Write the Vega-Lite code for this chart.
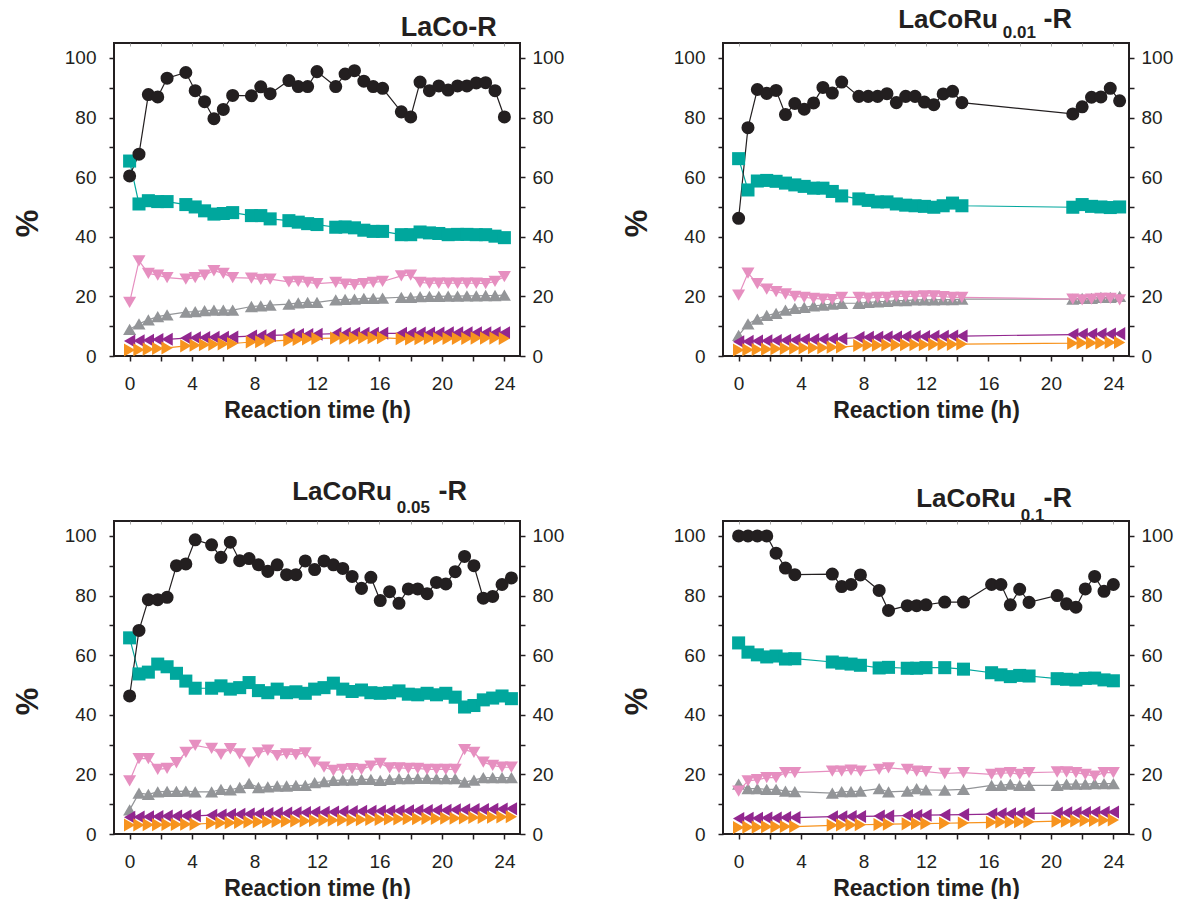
{
  "$schema": "https://vega.github.io/schema/vega-lite/v6.json",
  "background": "white",
  "padding": {"left": 11, "top": 4, "right": 5, "bottom": 5},
  "datasets": {
    "p1": [
      {"t":0,"s1":8.9,"s2":18.0,"s3":5.0,"s4":2.0,"s5":65.4,"s6":60.4},
      {"t":0.6,"s1":10.8,"s2":31.9,"s3":5.1,"s4":2.1,"s5":51.0,"s6":67.7},
      {"t":1.2,"s1":12.1,"s2":27.7,"s3":5.3,"s4":2.3,"s5":52.1,"s6":87.7},
      {"t":1.8,"s1":13.2,"s2":27.1,"s3":5.5,"s4":2.5,"s5":51.8,"s6":86.9},
      {"t":2.4,"s1":13.8,"s2":26.3,"s3":5.6,"s4":2.7,"s5":51.8,"s6":93.2},
      {"t":3.6,"s1":14.7,"s2":25.8,"s3":6.0,"s4":3.4,"s5":50.8,"s6":95.1},
      {"t":4.2,"s1":14.9,"s2":26.3,"s3":6.1,"s4":3.6,"s5":50.0,"s6":89.0},
      {"t":4.8,"s1":15.2,"s2":27.1,"s3":6.2,"s4":3.8,"s5":48.7,"s6":85.3},
      {"t":5.4,"s1":15.4,"s2":28.6,"s3":6.3,"s4":3.9,"s5":47.6,"s6":79.6},
      {"t":6.0,"s1":15.4,"s2":27.7,"s3":6.3,"s4":4.0,"s5":47.8,"s6":82.7},
      {"t":6.6,"s1":15.4,"s2":26.3,"s3":6.4,"s4":4.2,"s5":48.1,"s6":87.4},
      {"t":7.8,"s1":16.6,"s2":26.1,"s3":6.7,"s4":4.7,"s5":47.1,"s6":87.3},
      {"t":8.4,"s1":16.8,"s2":25.7,"s3":6.8,"s4":4.8,"s5":47.1,"s6":90.3},
      {"t":9.0,"s1":17.1,"s2":25.8,"s3":6.9,"s4":5.0,"s5":46.0,"s6":88.0},
      {"t":10.2,"s1":17.4,"s2":24.9,"s3":7.1,"s4":5.3,"s5":45.4,"s6":92.4},
      {"t":10.8,"s1":17.8,"s2":25.0,"s3":7.2,"s4":5.5,"s5":44.9,"s6":90.4},
      {"t":11.4,"s1":18.0,"s2":24.7,"s3":7.2,"s4":5.7,"s5":44.4,"s6":90.4},
      {"t":12.0,"s1":18.0,"s2":24.3,"s3":7.3,"s4":5.9,"s5":44.1,"s6":95.4},
      {"t":13.2,"s1":18.8,"s2":24.7,"s3":7.5,"s4":6.0,"s5":43.2,"s6":90.4},
      {"t":13.8,"s1":19.0,"s2":24.1,"s3":7.5,"s4":6.0,"s5":43.3,"s6":94.6},
      {"t":14.4,"s1":19.1,"s2":23.9,"s3":7.6,"s4":6.0,"s5":43.0,"s6":95.7},
      {"t":15.0,"s1":19.3,"s2":24.3,"s3":7.6,"s4":6.1,"s5":42.2,"s6":92.2},
      {"t":15.6,"s1":19.3,"s2":24.7,"s3":7.6,"s4":6.1,"s5":41.8,"s6":90.4},
      {"t":16.2,"s1":19.4,"s2":25.0,"s3":7.6,"s4":6.1,"s5":41.8,"s6":89.8},
      {"t":17.4,"s1":19.7,"s2":26.9,"s3":7.6,"s4":5.8,"s5":40.7,"s6":81.9},
      {"t":18.0,"s1":19.7,"s2":27.1,"s3":7.6,"s4":5.7,"s5":40.7,"s6":80.2},
      {"t":18.6,"s1":19.9,"s2":24.7,"s3":7.7,"s4":5.8,"s5":41.6,"s6":91.9},
      {"t":19.2,"s1":20.0,"s2":24.4,"s3":7.7,"s4":5.9,"s5":41.3,"s6":89.0},
      {"t":19.8,"s1":20.0,"s2":24.4,"s3":7.7,"s4":5.9,"s5":41.1,"s6":90.6},
      {"t":20.4,"s1":20.1,"s2":24.4,"s3":7.8,"s4":5.9,"s5":40.7,"s6":89.2},
      {"t":21.0,"s1":20.1,"s2":24.4,"s3":7.8,"s4":5.9,"s5":40.8,"s6":90.6},
      {"t":21.6,"s1":20.2,"s2":24.4,"s3":7.8,"s4":5.9,"s5":40.8,"s6":90.6},
      {"t":22.2,"s1":20.2,"s2":24.4,"s3":7.8,"s4":6.0,"s5":40.7,"s6":91.6},
      {"t":22.8,"s1":20.3,"s2":24.3,"s3":7.8,"s4":6.0,"s5":40.7,"s6":91.7},
      {"t":23.4,"s1":20.3,"s2":25.0,"s3":7.8,"s4":6.0,"s5":40.2,"s6":89.0},
      {"t":24.0,"s1":20.4,"s2":26.6,"s3":7.8,"s4":5.9,"s5":39.7,"s6":80.2}
    ],
    "p2": [
      {"t":0,"s6":46.2,"s5":66.2,"s2":20.4,"s1":6.9,"s3":4.8,"s4":2.0},
      {"t":0.6,"s6":76.6,"s5":55.7,"s2":27.8,"s1":10.8,"s3":4.9,"s4":2.1},
      {"t":1.2,"s6":89.4,"s5":58.7,"s2":24.3,"s1":12.4,"s3":5.0,"s4":2.2},
      {"t":1.8,"s6":88.1,"s5":58.9,"s2":22.4,"s1":13.6,"s3":5.1,"s4":2.3},
      {"t":2.4,"s6":89.1,"s5":58.6,"s2":21.6,"s1":14.3,"s3":5.2,"s4":2.4},
      {"t":3.0,"s6":81.0,"s5":58.0,"s2":20.8,"s1":15.4,"s3":5.3,"s4":2.5},
      {"t":3.6,"s6":84.7,"s5":57.4,"s2":20.0,"s1":16.0,"s3":5.4,"s4":2.6},
      {"t":4.2,"s6":82.8,"s5":56.9,"s2":19.7,"s1":16.3,"s3":5.5,"s4":2.7},
      {"t":4.8,"s6":84.9,"s5":56.3,"s2":19.3,"s1":16.8,"s3":5.5,"s4":2.8},
      {"t":5.4,"s6":90.1,"s5":56.3,"s2":19.1,"s1":17.1,"s3":5.6,"s4":2.8},
      {"t":6.0,"s6":88.2,"s5":55.2,"s2":18.9,"s1":17.4,"s3":5.7,"s4":2.9},
      {"t":6.6,"s6":91.9,"s5":53.7,"s2":19.7,"s1":17.7,"s3":5.8,"s4":3.0},
      {"t":7.7,"s6":87.1,"s5":52.7,"s2":19.7,"s1":17.7,"s3":6.2,"s4":3.5},
      {"t":8.3,"s6":87.1,"s5":52.2,"s2":19.4,"s1":18.0,"s3":6.3,"s4":3.6},
      {"t":8.9,"s6":87.1,"s5":51.7,"s2":19.7,"s1":18.2,"s3":6.3,"s4":3.6},
      {"t":9.5,"s6":88.0,"s5":51.7,"s2":19.7,"s1":18.3,"s3":6.4,"s4":3.7},
      {"t":10.1,"s6":85.0,"s5":51.0,"s2":20.0,"s1":18.6,"s3":6.4,"s4":3.7},
      {"t":10.7,"s6":87.1,"s5":50.6,"s2":20.0,"s1":18.6,"s3":6.5,"s4":3.8},
      {"t":11.3,"s6":87.1,"s5":50.4,"s2":20.0,"s1":18.8,"s3":6.5,"s4":3.8},
      {"t":11.9,"s6":85.2,"s5":50.2,"s2":20.2,"s1":18.8,"s3":6.5,"s4":3.8},
      {"t":12.5,"s6":84.3,"s5":49.9,"s2":20.2,"s1":18.8,"s3":6.6,"s4":3.9},
      {"t":13.1,"s6":87.9,"s5":50.4,"s2":19.9,"s1":18.9,"s3":6.6,"s4":3.9},
      {"t":13.7,"s6":88.8,"s5":51.3,"s2":19.7,"s1":18.9,"s3":6.7,"s4":3.9},
      {"t":14.3,"s6":85.0,"s5":50.4,"s2":19.7,"s1":19.1,"s3":6.7,"s4":4.0},
      {"t":21.4,"s6":81.2,"s5":49.9,"s2":19.1,"s1":19.1,"s3":7.2,"s4":4.3},
      {"t":22.0,"s6":83.6,"s5":50.8,"s2":18.8,"s1":19.3,"s3":7.3,"s4":4.4},
      {"t":22.6,"s6":86.8,"s5":50.2,"s2":19.1,"s1":19.3,"s3":7.3,"s4":4.4},
      {"t":23.2,"s6":86.9,"s5":50.0,"s2":19.3,"s1":19.7,"s3":7.4,"s4":4.4},
      {"t":23.8,"s6":89.8,"s5":49.8,"s2":19.3,"s1":19.7,"s3":7.4,"s4":4.5},
      {"t":24.4,"s6":85.6,"s5":50.0,"s2":18.8,"s1":20.0,"s3":7.5,"s4":4.5}
    ],
    "p3": [
      {"t":0,"s6":46.3,"s5":65.8,"s2":17.8,"s1":8.1,"s3":5.6,"s4":3.0},
      {"t":0.6,"s6":68.3,"s5":53.7,"s2":25.3,"s1":13.7,"s3":5.7,"s4":3.0},
      {"t":1.2,"s6":78.6,"s5":54.3,"s2":25.3,"s1":13.3,"s3":5.8,"s4":3.1},
      {"t":1.8,"s6":78.6,"s5":57.0,"s2":21.7,"s1":14.1,"s3":5.9,"s4":3.1},
      {"t":2.4,"s6":79.4,"s5":56.1,"s2":22.0,"s1":14.3,"s3":6.0,"s4":3.2},
      {"t":3.0,"s6":90.0,"s5":53.9,"s2":23.9,"s1":14.3,"s3":6.0,"s4":3.2},
      {"t":3.6,"s6":90.6,"s5":51.3,"s2":27.4,"s1":14.4,"s3":6.1,"s4":3.3},
      {"t":4.2,"s6":98.7,"s5":48.9,"s2":29.7,"s1":14.1,"s3":6.1,"s4":3.3},
      {"t":5.25,"s6":97.0,"s5":48.9,"s2":28.7,"s1":14.1,"s3":6.3,"s4":3.6},
      {"t":5.85,"s6":92.8,"s5":49.7,"s2":26.7,"s1":15.0,"s3":6.4,"s4":3.7},
      {"t":6.45,"s6":97.9,"s5":48.6,"s2":28.6,"s1":14.8,"s3":6.5,"s4":3.8},
      {"t":7.05,"s6":91.7,"s5":49.1,"s2":26.9,"s1":15.6,"s3":6.6,"s4":3.9},
      {"t":7.65,"s6":92.4,"s5":50.8,"s2":24.1,"s1":17.0,"s3":6.7,"s4":4.0},
      {"t":8.25,"s6":90.3,"s5":48.1,"s2":27.2,"s1":15.6,"s3":6.8,"s4":4.1},
      {"t":8.85,"s6":88.1,"s5":47.4,"s2":28.1,"s1":15.8,"s3":6.9,"s4":4.2},
      {"t":9.45,"s6":90.3,"s5":48.6,"s2":26.3,"s1":16.1,"s3":7.0,"s4":4.2},
      {"t":10.05,"s6":87.0,"s5":47.4,"s2":26.9,"s1":16.1,"s3":7.0,"s4":4.3},
      {"t":10.65,"s6":87.0,"s5":47.7,"s2":26.6,"s1":16.3,"s3":7.1,"s4":4.4},
      {"t":11.25,"s6":91.6,"s5":47.2,"s2":27.2,"s1":16.3,"s3":7.2,"s4":4.4},
      {"t":11.85,"s6":88.7,"s5":48.6,"s2":24.1,"s1":17.2,"s3":7.3,"s4":4.5},
      {"t":12.45,"s6":91.6,"s5":49.1,"s2":22.4,"s1":17.6,"s3":7.3,"s4":4.6},
      {"t":13.05,"s6":90.3,"s5":50.6,"s2":21.3,"s1":18.0,"s3":7.4,"s4":4.6},
      {"t":13.65,"s6":89.1,"s5":48.6,"s2":21.7,"s1":18.1,"s3":7.5,"s4":4.7},
      {"t":14.25,"s6":86.4,"s5":47.8,"s2":21.9,"s1":18.1,"s3":7.5,"s4":4.7},
      {"t":14.85,"s6":82.4,"s5":48.3,"s2":21.7,"s1":18.3,"s3":7.6,"s4":4.8},
      {"t":15.45,"s6":86.1,"s5":47.4,"s2":22.8,"s1":18.3,"s3":7.6,"s4":4.9},
      {"t":16.05,"s6":78.3,"s5":47.2,"s2":23.7,"s1":18.0,"s3":7.7,"s4":4.9},
      {"t":16.65,"s6":81.3,"s5":47.4,"s2":22.2,"s1":18.3,"s3":7.7,"s4":5.0},
      {"t":17.25,"s6":77.4,"s5":48.0,"s2":22.2,"s1":18.6,"s3":7.8,"s4":5.0},
      {"t":17.85,"s6":82.2,"s5":46.9,"s2":22.0,"s1":18.6,"s3":7.8,"s4":5.1},
      {"t":18.45,"s6":82.2,"s5":46.7,"s2":22.0,"s1":18.7,"s3":7.9,"s4":5.1},
      {"t":19.05,"s6":80.6,"s5":47.2,"s2":21.7,"s1":18.7,"s3":7.9,"s4":5.2},
      {"t":19.65,"s6":84.4,"s5":46.7,"s2":21.7,"s1":18.6,"s3":8.0,"s4":5.2},
      {"t":20.25,"s6":83.9,"s5":47.2,"s2":21.7,"s1":18.6,"s3":8.0,"s4":5.3},
      {"t":20.85,"s6":88.0,"s5":45.9,"s2":21.7,"s1":18.6,"s3":8.1,"s4":5.3},
      {"t":21.45,"s6":93.1,"s5":42.6,"s2":28.3,"s1":17.4,"s3":8.1,"s4":5.4},
      {"t":22.05,"s6":90.0,"s5":43.1,"s2":27.4,"s1":18.1,"s3":8.2,"s4":5.5},
      {"t":22.65,"s6":79.1,"s5":45.0,"s2":24.1,"s1":18.9,"s3":8.2,"s4":5.5},
      {"t":23.25,"s6":79.7,"s5":45.6,"s2":23.0,"s1":18.9,"s3":8.3,"s4":5.6},
      {"t":23.85,"s6":83.7,"s5":46.3,"s2":22.4,"s1":18.9,"s3":8.4,"s4":5.7},
      {"t":24.45,"s6":85.9,"s5":45.4,"s2":22.4,"s1":18.9,"s3":8.5,"s4":5.8}
    ],
    "p4": [
      {"t":0,"s6":100,"s5":64.1,"s2":14.4,"s1":16.7,"s3":5.2,"s4":2.2},
      {"t":0.6,"s6":100,"s5":61.0,"s2":17.8,"s1":15.2,"s3":5.3,"s4":2.3},
      {"t":1.2,"s6":100,"s5":60.1,"s2":18.2,"s1":15.2,"s3":5.3,"s4":2.3},
      {"t":1.8,"s6":100,"s5":59.4,"s2":18.9,"s1":15.0,"s3":5.4,"s4":2.4},
      {"t":2.4,"s6":94.2,"s5":59.7,"s2":18.9,"s1":15.0,"s3":5.4,"s4":2.4},
      {"t":3.0,"s6":89.2,"s5":58.7,"s2":20.6,"s1":14.4,"s3":5.5,"s4":2.5},
      {"t":3.6,"s6":87.0,"s5":58.8,"s2":20.6,"s1":14.2,"s3":5.5,"s4":2.5},
      {"t":6.0,"s6":87.2,"s5":57.7,"s2":21.1,"s1":13.7,"s3":5.8,"s4":2.9},
      {"t":6.6,"s6":83.0,"s5":57.3,"s2":21.1,"s1":14.2,"s3":5.8,"s4":3.0},
      {"t":7.2,"s6":83.7,"s5":57.0,"s2":21.4,"s1":14.2,"s3":5.9,"s4":3.0},
      {"t":7.8,"s6":86.9,"s5":56.6,"s2":21.1,"s1":14.4,"s3":5.9,"s4":3.1},
      {"t":9.0,"s6":81.7,"s5":55.7,"s2":21.7,"s1":15.2,"s3":6.0,"s4":3.2},
      {"t":9.6,"s6":75.0,"s5":55.9,"s2":22.2,"s1":14.1,"s3":6.0,"s4":3.3},
      {"t":10.8,"s6":76.6,"s5":55.6,"s2":21.7,"s1":14.4,"s3":6.2,"s4":3.4},
      {"t":11.4,"s6":76.6,"s5":55.6,"s2":21.1,"s1":15.2,"s3":6.2,"s4":3.5},
      {"t":12.0,"s6":76.9,"s5":55.8,"s2":20.9,"s1":14.8,"s3":6.3,"s4":3.5},
      {"t":13.2,"s6":77.8,"s5":55.8,"s2":20.3,"s1":14.7,"s3":6.4,"s4":3.6},
      {"t":14.4,"s6":77.8,"s5":55.3,"s2":20.6,"s1":15.0,"s3":6.5,"s4":3.7},
      {"t":16.2,"s6":83.7,"s5":54.1,"s2":20.0,"s1":16.3,"s3":6.7,"s4":3.9},
      {"t":16.8,"s6":83.7,"s5":53.4,"s2":20.3,"s1":16.3,"s3":6.8,"s4":4.0},
      {"t":17.4,"s6":76.9,"s5":52.8,"s2":20.6,"s1":16.7,"s3":6.8,"s4":4.0},
      {"t":18.0,"s6":82.1,"s5":53.2,"s2":20.0,"s1":16.3,"s3":6.9,"s4":4.1},
      {"t":18.6,"s6":77.7,"s5":53.0,"s2":20.6,"s1":16.3,"s3":6.9,"s4":4.1},
      {"t":20.4,"s6":80.0,"s5":52.1,"s2":20.8,"s1":16.3,"s3":7.0,"s4":4.3},
      {"t":21.0,"s6":77.2,"s5":51.9,"s2":20.8,"s1":16.7,"s3":7.1,"s4":4.3},
      {"t":21.6,"s6":76.1,"s5":51.7,"s2":20.6,"s1":16.7,"s3":7.1,"s4":4.4},
      {"t":22.2,"s6":82.2,"s5":52.2,"s2":20.0,"s1":16.7,"s3":7.2,"s4":4.5},
      {"t":22.8,"s6":86.4,"s5":52.3,"s2":19.4,"s1":16.9,"s3":7.3,"s4":4.5},
      {"t":23.4,"s6":81.4,"s5":51.7,"s2":20.6,"s1":16.9,"s3":7.3,"s4":4.6},
      {"t":24.0,"s6":83.7,"s5":51.4,"s2":20.6,"s1":16.9,"s3":7.4,"s4":4.7}
    ]
  },
  "spacing": 53,
  "vconcat": [
    {
      "spacing": 55,
      "hconcat": [
        {
          "data": {"name": "p1"},
          "transform": [{"fold": ["s1","s2","s3","s4","s5","s6"], "as": ["series","v"]}],
          "width": 406, "height": 313,
          "layer": [
            {"mark": {"type":"line","strokeWidth":1.2,"clip":true},
             "encoding": {
               "x": {"field":"t","type":"quantitative","scale":{"domain":[-1,25],"nice":false,"zero":false},
                     "axis":{"orient":"bottom","values":[0,2,4,6,8,10,12,14,16,18,20,22,24],"labelExpr":"datum.value % 4 === 0 ? datum.label : ''","title":"Reaction time (h)"}},
               "y": {"field":"v","type":"quantitative","scale":{"domain":[0,105],"nice":false,"zero":false},
                     "axis":{"orient":"left","values":[0,10,20,30,40,50,60,70,80,90,100],"labelExpr":"datum.value % 20 === 0 ? datum.label : ''","title":"%","titleY":180}},
               "color": {"field":"series","type":"nominal","scale":{"domain":["s1","s2","s3","s4","s5","s6"],"range":["#939598","#e68fc0","#92278f","#f7931e","#00a79d","#231f20"]},"legend":null}
             }},
            {"mark": {"type":"point","filled":true,"opacity":1},
             "encoding": {
               "x": {"field":"t","type":"quantitative","axis":null},
               "y": {"field":"v","type":"quantitative","axis":null},
               "color": {"field":"series","type":"nominal","legend":null},
               "shape": {"field":"series","type":"nominal","scale":{"domain":["s1","s2","s3","s4","s5","s6"],"range":["triangle-up","triangle-down","triangle-left","triangle-right","square","circle"]},"legend":null},
               "size": {"field":"series","type":"ordinal","scale":{"domain":["s1","s2","s3","s4","s5","s6"],"range":[170,170,170,170,100,110]},"legend":null},
               "order": {"field":"series","type":"ordinal","sort":"ascending"}
             }},
            {"mark": {"type":"point","opacity":0},
             "encoding": {
               "x": {"field":"t","type":"quantitative","axis":{"orient":"top","values":[0,2,4,6,8,10,12,14,16,18,20,22,24],"labels":false,"tickSize":-3,"tickWidth":1,"tickColor":"#aaaaaa","title":null}},
               "y": {"field":"v","type":"quantitative","axis":{"orient":"right","values":[0,10,20,30,40,50,60,70,80,90,100],"labelExpr":"datum.value % 20 === 0 ? datum.label : ''","title":null}}
             }},
            {"mark": {"type":"point","opacity":0},
             "encoding": {
               "x": {"field":"t","type":"quantitative","axis":{"orient":"top","ticks":false,"labels":false,"domain":false,"title":"LaCo-R","titleX":382.3,"titleY":-7.7,"titleAlign":"right","titleFontSize":27}},
               "y": {"field":"v","type":"quantitative","axis":null}
             }}
          ],
          "resolve": {"axis": {"x":"independent","y":"independent"}}
        },
        {
          "data": {"name": "p2"},
          "transform": [{"fold": ["s1","s2","s3","s4","s5","s6"], "as": ["series","v"]}],
          "width": 406, "height": 313,
          "layer": [
            {"mark": {"type":"line","strokeWidth":1.2,"clip":true},
             "encoding": {
               "x": {"field":"t","type":"quantitative","scale":{"domain":[-1,25],"nice":false,"zero":false},
                     "axis":{"orient":"bottom","values":[0,2,4,6,8,10,12,14,16,18,20,22,24],"labelExpr":"datum.value % 4 === 0 ? datum.label : ''","title":"Reaction time (h)"}},
               "y": {"field":"v","type":"quantitative","scale":{"domain":[0,105],"nice":false,"zero":false},
                     "axis":{"orient":"left","values":[0,10,20,30,40,50,60,70,80,90,100],"labelExpr":"datum.value % 20 === 0 ? datum.label : ''","title":"%","titleY":180}},
               "color": {"field":"series","type":"nominal","scale":{"domain":["s1","s2","s3","s4","s5","s6"],"range":["#939598","#e68fc0","#92278f","#f7931e","#00a79d","#231f20"]},"legend":null}
             }},
            {"mark": {"type":"point","filled":true,"opacity":1},
             "encoding": {
               "x": {"field":"t","type":"quantitative","axis":null},
               "y": {"field":"v","type":"quantitative","axis":null},
               "color": {"field":"series","type":"nominal","legend":null},
               "shape": {"field":"series","type":"nominal","scale":{"domain":["s1","s2","s3","s4","s5","s6"],"range":["triangle-up","triangle-down","triangle-left","triangle-right","square","circle"]},"legend":null},
               "size": {"field":"series","type":"ordinal","scale":{"domain":["s1","s2","s3","s4","s5","s6"],"range":[170,170,170,170,100,110]},"legend":null},
               "order": {"field":"series","type":"ordinal","sort":"ascending"}
             }},
            {"mark": {"type":"point","opacity":0},
             "encoding": {
               "x": {"field":"t","type":"quantitative","axis":{"orient":"top","values":[0,2,4,6,8,10,12,14,16,18,20,22,24],"labels":false,"tickSize":-3,"tickWidth":1,"tickColor":"#aaaaaa","title":"0.01","titleX":279.3,"titleY":-5.7}},
               "y": {"field":"v","type":"quantitative","axis":{"orient":"right","values":[0,10,20,30,40,50,60,70,80,90,100],"labelExpr":"datum.value % 20 === 0 ? datum.label : ''","title":"-R","titleX":-86,"titleY":-15.7}}
             }},
            {"mark": {"type":"point","opacity":0},
             "encoding": {
               "x": {"field":"t","type":"quantitative","axis":{"orient":"top","ticks":false,"labels":false,"domain":false,"title":"LaCoRu","titleX":274.3,"titleY":-15.7,"titleAlign":"right","titleFontSize":26}},
               "y": {"field":"v","type":"quantitative","axis":null}
             }}
          ],
          "resolve": {"axis": {"x":"independent","y":"independent"}}
        }
      ]
    },
    {
      "spacing": 55,
      "hconcat": [
        {
          "data": {"name": "p3"},
          "transform": [{"fold": ["s1","s2","s3","s4","s5","s6"], "as": ["series","v"]}],
          "width": 406, "height": 313,
          "layer": [
            {"mark": {"type":"line","strokeWidth":1.2,"clip":true},
             "encoding": {
               "x": {"field":"t","type":"quantitative","scale":{"domain":[-1,25],"nice":false,"zero":false},
                     "axis":{"orient":"bottom","values":[0,2,4,6,8,10,12,14,16,18,20,22,24],"labelExpr":"datum.value % 4 === 0 ? datum.label : ''","title":"Reaction time (h)"}},
               "y": {"field":"v","type":"quantitative","scale":{"domain":[0,105],"nice":false,"zero":false},
                     "axis":{"orient":"left","values":[0,10,20,30,40,50,60,70,80,90,100],"labelExpr":"datum.value % 20 === 0 ? datum.label : ''","title":"%","titleY":180}},
               "color": {"field":"series","type":"nominal","scale":{"domain":["s1","s2","s3","s4","s5","s6"],"range":["#939598","#e68fc0","#92278f","#f7931e","#00a79d","#231f20"]},"legend":null}
             }},
            {"mark": {"type":"point","filled":true,"opacity":1},
             "encoding": {
               "x": {"field":"t","type":"quantitative","axis":null},
               "y": {"field":"v","type":"quantitative","axis":null},
               "color": {"field":"series","type":"nominal","legend":null},
               "shape": {"field":"series","type":"nominal","scale":{"domain":["s1","s2","s3","s4","s5","s6"],"range":["triangle-up","triangle-down","triangle-left","triangle-right","square","circle"]},"legend":null},
               "size": {"field":"series","type":"ordinal","scale":{"domain":["s1","s2","s3","s4","s5","s6"],"range":[170,170,170,170,100,110]},"legend":null},
               "order": {"field":"series","type":"ordinal","sort":"ascending"}
             }},
            {"mark": {"type":"point","opacity":0},
             "encoding": {
               "x": {"field":"t","type":"quantitative","axis":{"orient":"top","values":[0,2,4,6,8,10,12,14,16,18,20,22,24],"labels":false,"tickSize":-3,"tickWidth":1,"tickColor":"#aaaaaa","title":"0.05","titleX":282.3,"titleY":-8.3}},
               "y": {"field":"v","type":"quantitative","axis":{"orient":"right","values":[0,10,20,30,40,50,60,70,80,90,100],"labelExpr":"datum.value % 20 === 0 ? datum.label : ''","title":"-R","titleX":-82,"titleY":-21.6}}
             }},
            {"mark": {"type":"point","opacity":0},
             "encoding": {
               "x": {"field":"t","type":"quantitative","axis":{"orient":"top","ticks":false,"labels":false,"domain":false,"title":"LaCoRu","titleX":277.3,"titleY":-21.6,"titleAlign":"right","titleFontSize":26}},
               "y": {"field":"v","type":"quantitative","axis":null}
             }}
          ],
          "resolve": {"axis": {"x":"independent","y":"independent"}}
        },
        {
          "data": {"name": "p4"},
          "transform": [{"fold": ["s1","s2","s3","s4","s5","s6"], "as": ["series","v"]}],
          "width": 406, "height": 313,
          "layer": [
            {"mark": {"type":"line","strokeWidth":1.2,"clip":true},
             "encoding": {
               "x": {"field":"t","type":"quantitative","scale":{"domain":[-1,25],"nice":false,"zero":false},
                     "axis":{"orient":"bottom","values":[0,2,4,6,8,10,12,14,16,18,20,22,24],"labelExpr":"datum.value % 4 === 0 ? datum.label : ''","title":"Reaction time (h)"}},
               "y": {"field":"v","type":"quantitative","scale":{"domain":[0,105],"nice":false,"zero":false},
                     "axis":{"orient":"left","values":[0,10,20,30,40,50,60,70,80,90,100],"labelExpr":"datum.value % 20 === 0 ? datum.label : ''","title":"%","titleY":180}},
               "color": {"field":"series","type":"nominal","scale":{"domain":["s1","s2","s3","s4","s5","s6"],"range":["#939598","#e68fc0","#92278f","#f7931e","#00a79d","#231f20"]},"legend":null}
             }},
            {"mark": {"type":"point","filled":true,"opacity":1},
             "encoding": {
               "x": {"field":"t","type":"quantitative","axis":null},
               "y": {"field":"v","type":"quantitative","axis":null},
               "color": {"field":"series","type":"nominal","legend":null},
               "shape": {"field":"series","type":"nominal","scale":{"domain":["s1","s2","s3","s4","s5","s6"],"range":["triangle-up","triangle-down","triangle-left","triangle-right","square","circle"]},"legend":null},
               "size": {"field":"series","type":"ordinal","scale":{"domain":["s1","s2","s3","s4","s5","s6"],"range":[170,170,170,170,100,110]},"legend":null},
               "order": {"field":"series","type":"ordinal","sort":"ascending"}
             }},
            {"mark": {"type":"point","opacity":0},
             "encoding": {
               "x": {"field":"t","type":"quantitative","axis":{"orient":"top","values":[0,2,4,6,8,10,12,14,16,18,20,22,24],"labels":false,"tickSize":-3,"tickWidth":1,"tickColor":"#aaaaaa","title":"0.1","titleX":297.3,"titleY":-1}},
               "y": {"field":"v","type":"quantitative","axis":{"orient":"right","values":[0,10,20,30,40,50,60,70,80,90,100],"labelExpr":"datum.value % 20 === 0 ? datum.label : ''","title":"-R","titleX":-86,"titleY":-15}}
             }},
            {"mark": {"type":"point","opacity":0},
             "encoding": {
               "x": {"field":"t","type":"quantitative","axis":{"orient":"top","ticks":false,"labels":false,"domain":false,"title":"LaCoRu","titleX":292.3,"titleY":-15,"titleAlign":"right","titleFontSize":26}},
               "y": {"field":"v","type":"quantitative","axis":null}
             }}
          ],
          "resolve": {"axis": {"x":"independent","y":"independent"}}
        }
      ]
    }
  ],
  "config": {
    "font": "Liberation Sans",
    "view": {"stroke": "#231f20", "strokeWidth": 2},
    "axis": {"domain": false, "grid": false, "tickColor": "#231f20", "tickWidth": 1.5, "tickSize": 5,
             "labelFont": "Liberation Sans", "labelFontSize": 19, "labelColor": "#231f20", "labelFlush": false, "labelOverlap": false,
             "titleFont": "Liberation Sans", "titleColor": "#231f20", "titleFontWeight": "bold"},
    "axisBottom": {"labelPadding": 13, "titleFontSize": 23, "titlePadding": 6},
    "axisLeft": {"labelPadding": 13, "titleFontSize": 31, "titlePadding": 20},
    "axisRight": {"labelPadding": 7, "titleFontSize": 27, "titleAngle": 0, "titleAlign": "left", "titleBaseline": "alphabetic"},
    "axisTop": {"titleFontSize": 17, "titleAlign": "left", "titleBaseline": "alphabetic"}
  }
}
